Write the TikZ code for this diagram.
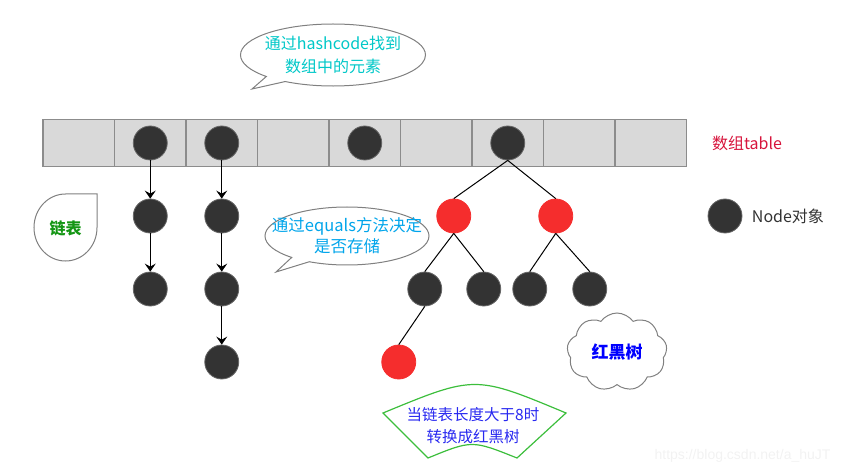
\documentclass[tikz,border=0pt]{standalone}
\usepackage{fontspec}
\setmainfont{Noto Sans CJK SC}
\newfontfamily\wmfont{Liberation Sans}
\usepackage{xcolor}
\definecolor{nodedark}{RGB}{51, 51, 51}
\definecolor{nodered}{RGB}{245, 45, 45}
\definecolor{cellgray}{RGB}{217, 217, 217}
\definecolor{cellline}{RGB}{140, 140, 140}
\definecolor{bubbleline}{RGB}{128, 128, 128}
\definecolor{hashcyan}{RGB}{0, 200, 200}
\definecolor{equalsblue}{RGB}{0, 165, 235}
\definecolor{listgreen}{RGB}{20, 150, 20}
\definecolor{tablered}{RGB}{215, 20, 60}
\definecolor{bannergreen}{RGB}{60, 190, 60}
\definecolor{bannerblue}{RGB}{40, 40, 240}
\usepackage{tikz}
\usetikzlibrary{
    arrows.meta,
    positioning,
    calc,
    shapes.callouts,
    shapes.symbols
}

\begin{document}
\begin{tikzpicture}[
    x=1pt, y=-1pt,
    >={Stealth[length=8pt, width=11pt, inset=3pt]},
    node distance=73pt and 54pt,
    on grid,
    every text node part/.style={align=center},
    cell/.style={draw=cellline, line width=1.2pt, fill=cellgray, minimum width=71.5pt, minimum height=47pt, inner sep=0pt, outer sep=0pt},
    bnode/.style={circle, fill=nodedark, draw=nodedark!75!white, line width=0.8pt, minimum size=34pt, inner sep=0pt},
    rnode/.style={bnode, fill=nodered, draw=nodered},
    nxt/.style={draw=black, line width=1pt, ->},
    branch/.style={draw=black, line width=1pt},
    bubble/.style={ellipse callout, draw=bubbleline, line width=1pt, fill=white, inner xsep=-25pt, inner ysep=0pt},
    note/.style={font=\fontsize{16}{20}\selectfont}
]
\useasboundingbox (0,0) rectangle (843,473);

% ==================== ARRAY TABLE ====================
\foreach \i in {0,...,8}
    \node[cell] (cell\i) at ({78.75+71.5*\i}, 143) {};

\node[bnode] (bucket1) at (cell1) {};
\node[bnode] (bucket2) at (cell2) {};
\node[bnode] (bucket4) at (cell4) {};
\node[bnode] (bucket6) at (cell6) {};

\node[note, text=tablered, anchor=west] (table_label) at ($(cell8.east)+(22pt,0)$) {数组table};

% ==================== LINKED LISTS ====================
\node[bnode, below=of bucket1] (list1_a) {};
\node[bnode, below=of list1_a] (list1_b) {};
\node[bnode, below=of bucket2] (list2_a) {};
\node[bnode, below=of list2_a] (list2_b) {};
\node[bnode, below=of list2_b] (list2_c) {};

\draw[nxt] (bucket1) -- (list1_a);
\draw[nxt] (list1_a) -- (list1_b);
\draw[nxt] (bucket2) -- (list2_a);
\draw[nxt] (list2_a) -- (list2_b);
\draw[nxt] (list2_b) -- (list2_c);

% ==================== RED-BLACK TREE ====================
\node[rnode, below left=73pt and 54pt of bucket6] (tree_l) {};
\node[rnode, below right=73pt and 48pt of bucket6] (tree_r) {};
\node[bnode, below left=73pt and 29pt of tree_l] (tree_ll) {};
\node[bnode, below right=73pt and 30pt of tree_l] (tree_lr) {};
\node[bnode, below left=73pt and 26pt of tree_r] (tree_rl) {};
\node[bnode, below right=73pt and 34pt of tree_r] (tree_rr) {};
\node[rnode, below left=73pt and 26pt of tree_ll] (tree_lll) {};

\draw[branch] (bucket6.south) -- (tree_l.north);
\draw[branch] (bucket6.south) -- (tree_r.north);
\draw[branch] (tree_l.south) -- (tree_ll.north);
\draw[branch] (tree_l.south) -- (tree_lr.north);
\draw[branch] (tree_r.south) -- (tree_rl.north);
\draw[branch] (tree_r.south) -- (tree_rr.north);
\draw[branch] (tree_ll.south) -- (tree_lll.north);

% ==================== LEGEND ====================
\node[bnode] (legend_node) at (725,216) {};
\node[note, text=nodedark, anchor=west] (legend_text) at ($(legend_node.east)+(6pt,0)$) {Node对象};

% ==================== NOTES ====================
\node[bubble, text=hashcyan, font=\fontsize{16}{23}\selectfont, minimum width=185pt, minimum height=62pt,
      callout absolute pointer={(252,89)}] (hash_note) at (333,55)
    {通过hashcode找到\\数组中的元素};

\node[bubble, text=equalsblue, font=\fontsize{16.5}{21}\selectfont, minimum width=164pt, minimum height=58pt,
      callout absolute pointer={(276,272)}] (equals_note) at (347,236)
    {通过equals方法决定\\是否存储};

% teardrop round the list label
\node[note, text=listgreen, font=\fontsize{16}{20}\selectfont\bfseries] (list_label) at (65.5,228) {链表};
\draw[bubbleline, line width=1pt] (97,194) -- (97,227.5)
    .. controls (97,246) and (83,261) .. (65.5,261)
    .. controls (48,261) and (34,246) .. (34,227.5)
    .. controls (34,209) and (48,194) .. (65.5,194) -- cycle;

\node[cloud, cloud puffs=9, cloud puff arc=110, aspect=1.3, draw=bubbleline, line width=1pt,
      minimum width=100pt, minimum height=78pt, inner sep=0pt, text=blue,
      font=\fontsize{17}{20}\selectfont\bfseries] (rb_cloud) at (617,352) {红黑树};

% banner below the tree
\draw[bannergreen, line width=1.2pt] (383,413) .. controls (475,375) .. (566,413)
    -- (517,458) .. controls (472,440) .. (428,458) -- cycle;
\node[text=bannerblue, font=\fontsize{15.5}{22}\selectfont] (banner_text) at (473,426)
    {当链表长度大于8时\\转换成红黑树};

\node[text=black!5, font=\wmfont\fontsize{14}{14}\selectfont, anchor=east] (watermark) at (834,456)
    {https://blog.csdn.net/a\_huJT};

\end{tikzpicture}
\end{document}
